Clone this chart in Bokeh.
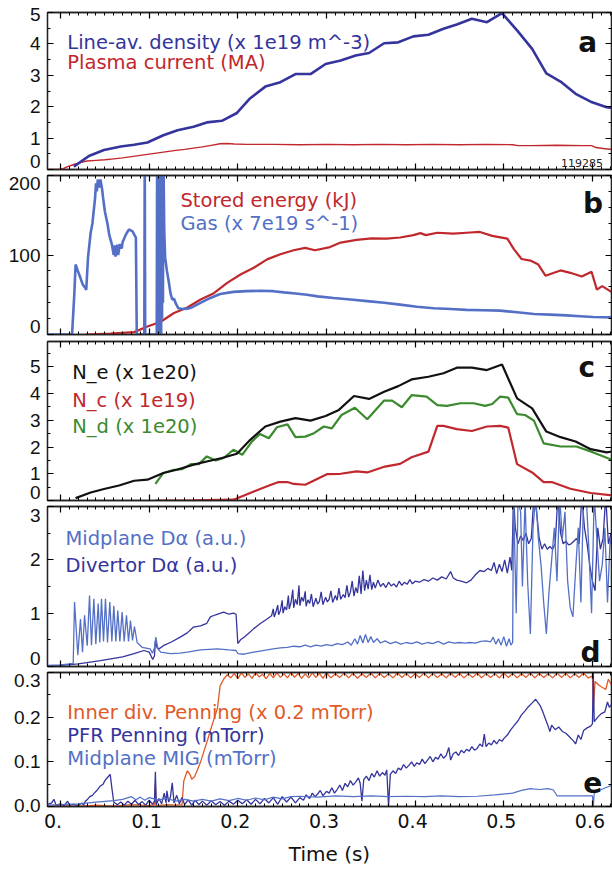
from bokeh.plotting import figure
from bokeh.layouts import column
from bokeh.models import Range1d, LinearAxis, FixedTicker, Label, CustomJSTickFormatter
from bokeh.embed import file_html
from bokeh.resources import INLINE

FONT = "DejaVu Sans"
TICKFONT = "Liberation Sans"
DARK = "#34349c"
RED = "#c0282d"
MID = "#5370c6"
GREEN = "#3b8a2e"
ORANGE = "#df5a28"

# ---------------- data (time s, value) ----------------
density = [(0.015,0.09),(0.032,0.43),(0.049,0.62),(0.068,0.73),(0.083,0.79),(0.098,0.86),(0.116,1.09),
           (0.132,1.25),(0.150,1.36),(0.165,1.50),(0.182,1.55),(0.199,1.80),(0.214,2.27),(0.231,2.64),
           (0.248,2.78),(0.265,3.04),(0.282,3.04),(0.299,3.36),(0.316,3.47),(0.333,3.63),(0.348,3.71),
           (0.365,4.02),(0.381,4.05),(0.398,4.24),(0.415,4.29),(0.432,4.48),(0.447,4.62),(0.464,4.80),
           (0.481,4.69),(0.498,4.98),(0.515,4.43),(0.532,3.84),(0.548,3.06),(0.564,2.80),(0.581,2.41),
           (0.598,2.16),(0.616,1.98),(0.625,1.95)]
plasma_current = [(-0.015,0.0),(0.0,0.0),(0.004,0.04),(0.008,0.09),(0.015,0.16),(0.022,0.22),(0.030,0.27),
                  (0.040,0.29),(0.050,0.31),(0.060,0.34),(0.070,0.37),(0.080,0.41),(0.090,0.45),(0.100,0.49),
                  (0.110,0.53),(0.120,0.57),(0.130,0.61),(0.140,0.64),(0.150,0.68),(0.160,0.72),(0.170,0.77),
                  (0.180,0.82),(0.188,0.83),(0.196,0.81),(0.21,0.80),(0.24,0.80),(0.27,0.79),(0.30,0.80),
                  (0.33,0.79),(0.36,0.80),(0.39,0.79),(0.42,0.80),(0.45,0.79),(0.48,0.80),(0.51,0.79),
                  (0.516,0.76),(0.53,0.76),(0.56,0.77),(0.59,0.76),(0.599,0.76),(0.604,0.70),(0.612,0.67),
                  (0.625,0.63)]
stored_energy = [(0.028,0),(0.056,1),(0.083,3),(0.098,10),(0.113,16),(0.128,27),(0.143,34),(0.158,44),
                 (0.173,52),(0.188,65),(0.203,75.5),(0.218,84),(0.233,94.5),(0.248,101),(0.263,106),
                 (0.276,109),(0.287,106),(0.304,110),(0.316,115.6),(0.334,119),(0.351,121),(0.368,120.6),
                 (0.383,122),(0.398,125),(0.406,127.5),(0.412,125),(0.425,128),(0.443,127),(0.458,128),
                 (0.473,129),(0.487,124),(0.504,120.6),(0.511,108),(0.520,95),(0.530,93),(0.539,88),
                 (0.547,74),(0.564,80.6),(0.575,77.6),(0.588,73),(0.599,79),(0.605,56.5),(0.611,60.8),
                 (0.625,51)]
gas = [(-0.015,0),(0.013,0),(0.0155,50),(0.017,88),(0.0195,80),(0.0225,71),(0.025,63),(0.028,58.6),
       (0.029,56),(0.031,97),(0.034,128),(0.036,140),(0.039,172),(0.040,190),(0.041,180),(0.042,195),
       (0.044,185),(0.045,195),(0.047,182),(0.048,172),(0.050,155),(0.053,139),(0.055,125),(0.058,113),
       (0.060,100),(0.061,112),(0.062,98),(0.064,113),(0.065,100),(0.067,114),(0.069,108),(0.070,116),
       (0.073,124),(0.075,128),(0.077,132),(0.079,131),(0.081,130),(0.083,126),(0.085,122),(0.086,0),
       (0.0945,0),(0.095,230),(0.0955,0),(0.1085,0),(0.109,230),(0.1095,0),(0.110,230),(0.1105,5),
       (0.111,230),(0.1115,0),(0.112,230),(0.1125,10),(0.113,230),(0.1135,0),(0.114,230),(0.1145,20),
       (0.115,230),(0.1155,40),(0.116,230),(0.117,130),(0.118,97),(0.120,80),(0.122,67),(0.124,52),
       (0.126,44),(0.128,45),(0.130,39),(0.133,33),(0.138,32),(0.143,32.5),(0.148,34),(0.154,37.6),
       (0.160,41),(0.169,46),(0.180,51),(0.195,53.6),(0.210,54.5),(0.225,55),(0.240,54.5),(0.252,53),
       (0.265,51.5),(0.278,50),(0.290,48),(0.308,46),(0.327,44),(0.346,42),(0.365,40),(0.383,37.6),
       (0.402,35),(0.421,33),(0.440,32),(0.458,31),(0.477,30.5),(0.496,30),(0.515,28),(0.534,25.7),
       (0.552,25),(0.571,24),(0.586,23),(0.601,22),(0.625,21.5)]
n_e = [(0.017,0.09),(0.034,0.30),(0.049,0.43),(0.066,0.56),(0.083,0.74),(0.098,0.78),(0.116,1.03),
       (0.131,1.15),(0.150,1.34),(0.165,1.46),(0.182,1.59),(0.199,1.75),(0.214,2.27),(0.231,2.77),
       (0.248,2.95),(0.265,3.08),(0.282,2.99),(0.299,3.16),(0.314,3.39),(0.331,3.91),(0.348,3.80),
       (0.365,4.07),(0.381,4.28),(0.396,4.53),(0.415,4.63),(0.432,4.76),(0.447,4.97),(0.464,4.97),
       (0.481,4.88),(0.498,5.09),(0.515,3.82),(0.532,3.45),(0.548,2.58),(0.564,2.37),(0.581,2.21),
       (0.598,1.92),(0.616,1.80),(0.625,1.85)]
n_d = [(0.107,0.62),(0.116,1.03),(0.128,1.15),(0.137,1.17),(0.147,1.36),(0.156,1.36),(0.165,1.65),
       (0.175,1.50),(0.184,1.59),(0.195,1.90),(0.205,1.71),(0.216,2.21),(0.225,2.49),(0.235,2.33),
       (0.244,2.74),(0.256,2.85),(0.265,2.37),(0.276,2.39),(0.286,2.52),(0.297,2.77),(0.306,2.70),
       (0.317,3.20),(0.332,3.47),(0.346,3.04),(0.365,3.74),(0.374,3.74),(0.385,3.49),(0.396,3.94),
       (0.413,3.89),(0.425,3.57),(0.436,3.54),(0.451,3.64),(0.466,3.64),(0.479,3.54),(0.487,3.61),
       (0.496,3.89),(0.505,3.85),(0.515,3.23),(0.524,3.20),(0.534,2.99),(0.545,2.14),(0.564,2.02),
       (0.582,2.02),(0.601,1.80),(0.625,1.48)]
n_c = [(0.107,0.0),(0.150,0.01),(0.195,0.03),(0.207,0.19),(0.218,0.34),(0.233,0.53),(0.246,0.69),
       (0.256,0.69),(0.263,0.62),(0.276,0.59),(0.286,0.75),(0.301,0.99),(0.316,1.00),(0.334,1.09),
       (0.346,1.05),(0.366,1.27),(0.383,1.37),(0.396,1.62),(0.415,1.83),(0.425,2.79),(0.432,2.79),
       (0.447,2.67),(0.464,2.60),(0.481,2.77),(0.496,2.79),(0.505,2.73),(0.515,1.36),(0.532,1.05),
       (0.545,0.69),(0.554,0.69),(0.575,0.44),(0.598,0.28),(0.625,0.18)]
midplane_da = [(-0.015,0.02),(0.0,0.03),(0.010,0.05),(0.0143,0.06),(0.0158,1.21),(0.0195,0.21),(0.0225,0.89),
               (0.0248,0.27),(0.0271,0.96),(0.0301,0.39),(0.0327,1.33),(0.0349,0.40),(0.0376,1.27),
               (0.0398,0.42),(0.0425,1.18),(0.0443,0.45),(0.0462,1.27),(0.0485,0.47),(0.0507,1.27),
               (0.0530,0.45),(0.0556,1.21),(0.0579,0.47),(0.0601,1.14),(0.0624,0.47),(0.0646,1.05),
               (0.0669,0.47),(0.0695,1.02),(0.0718,0.47),(0.0744,0.96),(0.0767,0.47),(0.0789,0.86),
               (0.0812,0.49),(0.0834,0.75),(0.0864,0.45),(0.092,0.36),(0.101,0.33),(0.1037,0.25),
               (0.1060,0.35),(0.1075,0.55),(0.1098,0.33),(0.113,0.27),(0.124,0.24),(0.135,0.25),
               (0.143,0.27),(0.158,0.31),(0.177,0.33),(0.190,0.31),(0.198,0.30),(0.200,0.24),(0.207,0.23),
               (0.212,0.25),(0.218,0.27),(0.225,0.29),(0.233,0.31),(0.240,0.33),(0.248,0.35),(0.256,0.36),
               (0.263,0.38),(0.270,0.37),(0.276,0.40),(0.282,0.37),(0.288,0.40),(0.294,0.38),(0.300,0.41),
               (0.306,0.39),(0.312,0.43),(0.318,0.41),(0.324,0.46),(0.328,0.40),(0.332,0.52),(0.335,0.42),
               (0.338,0.58),(0.341,0.44),(0.344,0.60),(0.347,0.45),(0.350,0.56),(0.353,0.45),(0.357,0.52),
               (0.361,0.44),(0.366,0.48),(0.372,0.43),(0.378,0.46),(0.384,0.42),(0.390,0.45),(0.396,0.43),
               (0.402,0.46),(0.408,0.42),(0.414,0.45),(0.420,0.43),(0.426,0.47),(0.432,0.42),(0.438,0.46),
               (0.444,0.44),(0.450,0.45),(0.456,0.44),(0.462,0.45),(0.468,0.44),(0.474,0.47),(0.480,0.48),
               (0.485,0.46),(0.488,0.55),(0.491,0.42),(0.494,0.52),(0.497,0.40),(0.500,0.56),(0.503,0.38),
               (0.506,0.52),(0.508,0.40),(0.510,0.45),(0.511,3.2),(0.514,1.0),(0.516,3.1),(0.519,2.9),
               (0.521,1.5),(0.524,3.1),(0.527,1.55),(0.530,0.61),(0.533,2.6),(0.536,3.2),(0.539,2.4),
               (0.542,1.9),(0.545,1.2),(0.548,0.61),(0.551,1.4),(0.554,2.0),(0.557,2.6),(0.560,1.6),
               (0.563,3.2),(0.566,2.4),(0.569,2.9),(0.572,1.6),(0.575,1.1),(0.578,0.93),(0.581,1.8),
               (0.584,2.6),(0.587,1.2),(0.590,3.2),(0.593,3.2),(0.596,2.2),(0.599,1.0),(0.602,3.2),
               (0.605,2.4),(0.608,1.6),(0.611,1.9),(0.614,2.6),(0.617,1.2),(0.620,2.4),(0.625,2.0)]
divertor_da = [(-0.015,0.01),(0.0,0.02),(0.02,0.05),(0.045,0.11),(0.07,0.18),(0.083,0.24),(0.094,0.30),
               (0.100,0.27),(0.104,0.13),(0.106,0.20),(0.107,0.48),(0.109,0.35),(0.111,0.33),(0.116,0.39),
               (0.125,0.46),(0.135,0.55),(0.143,0.63),(0.150,0.74),(0.158,0.76),(0.165,0.81),(0.169,0.93),
               (0.175,0.97),(0.184,1.02),(0.190,0.98),(0.195,1.00),(0.198,0.98),(0.200,0.43),(0.203,0.50),
               (0.207,0.55),(0.212,0.62),(0.218,0.71),(0.225,0.80),(0.233,0.89),(0.238,0.95),(0.240,1.08),
               (0.241,0.93),(0.243,1.02),(0.245,1.15),(0.246,0.97),(0.248,1.05),(0.250,1.24),(0.251,1.00),
               (0.253,1.12),(0.255,1.06),(0.257,1.33),(0.258,1.08),(0.260,1.20),(0.262,1.44),(0.263,1.10),
               (0.265,1.26),(0.267,1.16),(0.269,1.52),(0.270,1.14),(0.272,1.30),(0.274,1.22),(0.276,1.41),
               (0.277,1.13),(0.279,1.25),(0.281,1.18),(0.283,1.36),(0.285,1.12),(0.288,1.28),(0.290,1.17),
               (0.292,1.22),(0.294,1.40),(0.296,1.16),(0.299,1.30),(0.301,1.21),(0.303,1.26),(0.305,1.42),
               (0.307,1.20),(0.310,1.33),(0.312,1.24),(0.314,1.47),(0.316,1.26),(0.319,1.35),(0.321,1.29),
               (0.323,1.52),(0.325,1.30),(0.327,1.40),(0.329,1.60),(0.331,1.32),(0.333,1.48),(0.335,1.38),
               (0.337,1.70),(0.339,1.36),(0.341,1.80),(0.343,1.42),(0.345,1.62),(0.347,1.45),(0.349,1.72),
               (0.351,1.44),(0.353,1.58),(0.355,1.47),(0.358,1.62),(0.361,1.50),(0.364,1.56),(0.367,1.48),
               (0.370,1.58),(0.373,1.51),(0.376,1.55),(0.379,1.49),(0.382,1.60),(0.385,1.52),(0.388,1.58),
               (0.391,1.54),(0.394,1.63),(0.397,1.55),(0.400,1.60),(0.405,1.58),(0.410,1.63),(0.415,1.60),
               (0.420,1.66),(0.425,1.62),(0.430,1.68),(0.435,1.64),(0.440,1.78),(0.443,1.66),(0.447,1.62),
               (0.452,1.60),(0.458,1.57),(0.463,1.62),(0.468,1.72),(0.473,1.80),(0.478,1.78),(0.482,1.84),
               (0.486,1.80),(0.489,1.95),(0.492,1.74),(0.495,1.92),(0.498,1.78),(0.501,2.00),(0.504,1.75),
               (0.507,2.05),(0.509,1.80),(0.511,3.2),(0.513,2.6),(0.516,2.3),(0.519,2.45),(0.522,2.36),
               (0.525,2.5),(0.528,2.3),(0.531,2.4),(0.534,3.2),(0.537,2.9),(0.540,2.4),(0.543,2.2),
               (0.546,2.3),(0.549,2.2),(0.552,2.25),(0.555,2.2),(0.558,2.3),(0.561,3.2),(0.564,2.5),
               (0.567,2.3),(0.570,2.35),(0.573,2.28),(0.576,2.3),(0.579,2.35),(0.582,2.4),(0.585,2.3),
               (0.588,3.2),(0.591,2.6),(0.594,2.3),(0.597,1.9),(0.600,1.6),(0.603,1.42),(0.606,2.6),
               (0.609,2.2),(0.612,2.4),(0.615,3.2),(0.618,2.3),(0.621,2.5),(0.625,2.2)]
inner_penning = [(-0.015,0.0),(0.0,0.002),(0.02,0.0),(0.04,0.003),(0.06,0.001),(0.08,0.004),(0.10,0.002),
                 (0.106,0.004),(0.107,0.05),(0.108,0.002),(0.12,0.004),(0.13,0.003),(0.137,0.004),
                 (0.139,0.057),(0.143,0.080),(0.146,0.072),(0.148,0.061),(0.151,0.066),(0.154,0.080),
                 (0.158,0.100),(0.162,0.125),(0.166,0.150),(0.169,0.170),(0.173,0.195),(0.177,0.220),
                 (0.180,0.270),(0.184,0.285),(0.188,0.295),(0.192,0.288),(0.196,0.298),(0.200,0.286),
                 (0.204,0.299),(0.208,0.289),(0.212,0.297),(0.216,0.287),(0.220,0.300),(0.224,0.290),
                 (0.228,0.296),(0.232,0.286),(0.236,0.298),(0.240,0.288),(0.244,0.299),(0.248,0.289),
                 (0.252,0.297),(0.256,0.288),(0.260,0.300),(0.264,0.289),(0.268,0.298),(0.272,0.287),
                 (0.276,0.297),(0.280,0.288),(0.284,0.299),(0.288,0.289),(0.292,0.298),(0.296,0.287),
                 (0.300,0.299),(0.305,0.288),(0.310,0.297),(0.315,0.289),(0.320,0.299),(0.325,0.288),
                 (0.330,0.298),(0.335,0.287),(0.340,0.297),(0.345,0.289),(0.350,0.299),(0.355,0.288),
                 (0.360,0.298),(0.365,0.289),(0.370,0.297),(0.375,0.288),(0.380,0.299),(0.385,0.289),
                 (0.390,0.298),(0.395,0.288),(0.400,0.297),(0.405,0.289),(0.410,0.299),(0.415,0.288),
                 (0.420,0.298),(0.425,0.289),(0.430,0.297),(0.435,0.288),(0.440,0.299),(0.445,0.289),
                 (0.450,0.298),(0.455,0.288),(0.460,0.297),(0.465,0.289),(0.470,0.299),(0.475,0.288),
                 (0.480,0.298),(0.485,0.289),(0.490,0.297),(0.495,0.288),(0.500,0.299),(0.505,0.289),
                 (0.510,0.298),(0.515,0.288),(0.520,0.297),(0.525,0.289),(0.530,0.299),(0.535,0.288),
                 (0.540,0.298),(0.545,0.289),(0.550,0.297),(0.555,0.288),(0.560,0.299),(0.565,0.289),
                 (0.570,0.298),(0.575,0.288),(0.580,0.297),(0.585,0.289),(0.590,0.299),(0.595,0.288),
                 (0.600,0.292),(0.601,0.220),(0.603,0.280),(0.607,0.272),(0.610,0.268),(0.615,0.262),
                 (0.618,0.285),(0.622,0.270),(0.625,0.272)]
pfr_penning = [(-0.015,0.004),(-0.010,0.008),(-0.0075,0.016),(-0.005,0.003),(0.000,0.006),(0.004,0.002),
               (0.008,0.012),(0.010,0.003),(0.015,0.005),(0.020,0.002),(0.024,0.008),(0.026,0.003),
               (0.028,0.012),(0.030,0.015),(0.033,0.022),(0.036,0.025),(0.038,0.030),(0.041,0.036),
               (0.045,0.046),(0.048,0.050),(0.050,0.058),(0.053,0.065),(0.056,0.072),(0.058,0.040),
               (0.060,0.010),(0.064,0.004),(0.068,0.010),(0.072,0.003),(0.076,0.012),(0.080,0.005),
               (0.084,0.014),(0.088,0.004),(0.092,0.011),(0.096,0.003),(0.100,0.014),(0.104,0.005),
               (0.106,0.012),(0.107,0.078),(0.108,0.004),(0.111,0.018),(0.114,0.006),(0.117,0.030),
               (0.119,0.008),(0.120,0.035),(0.122,0.010),(0.124,0.022),(0.126,0.053),(0.128,0.008),
               (0.131,0.025),(0.134,0.006),(0.137,0.020),(0.140,0.004),(0.144,0.015),(0.148,0.003),
               (0.152,0.014),(0.156,0.004),(0.160,0.012),(0.165,0.003),(0.170,0.013),(0.175,0.004),
               (0.180,0.011),(0.185,0.003),(0.190,0.012),(0.195,0.005),(0.200,0.014),(0.205,0.006),
               (0.210,0.015),(0.215,0.005),(0.220,0.016),(0.225,0.006),(0.230,0.018),(0.235,0.008),
               (0.240,0.020),(0.245,0.005),(0.250,0.022),(0.255,0.010),(0.260,0.021),(0.265,0.008),
               (0.270,0.020),(0.274,0.014),(0.277,0.026),(0.281,0.018),(0.284,0.030),(0.287,0.022),
               (0.290,0.028),(0.293,0.036),(0.296,0.024),(0.300,0.034),(0.303,0.030),(0.306,0.042),
               (0.309,0.030),(0.312,0.038),(0.315,0.048),(0.318,0.036),(0.321,0.052),(0.324,0.044),
               (0.327,0.058),(0.330,0.048),(0.333,0.055),(0.336,0.064),(0.338,0.052),(0.340,0.012),
               (0.342,0.060),(0.345,0.068),(0.348,0.058),(0.351,0.074),(0.354,0.066),(0.357,0.080),
               (0.360,0.068),(0.363,0.076),(0.366,0.070),(0.368,0.082),(0.370,0.000),(0.372,0.072),
               (0.375,0.080),(0.378,0.074),(0.381,0.086),(0.384,0.082),(0.387,0.094),(0.390,0.086),
               (0.393,0.092),(0.396,0.100),(0.399,0.090),(0.402,0.098),(0.405,0.094),(0.408,0.106),
               (0.411,0.096),(0.414,0.104),(0.417,0.112),(0.420,0.100),(0.423,0.110),(0.426,0.106),
               (0.429,0.118),(0.432,0.108),(0.435,0.114),(0.438,0.132),(0.440,0.104),(0.443,0.118),
               (0.446,0.122),(0.449,0.114),(0.452,0.126),(0.455,0.120),(0.458,0.128),(0.461,0.124),
               (0.464,0.134),(0.467,0.126),(0.470,0.130),(0.473,0.140),(0.476,0.134),(0.478,0.162),
               (0.480,0.134),(0.483,0.142),(0.486,0.138),(0.489,0.148),(0.492,0.140),(0.495,0.150),
               (0.498,0.146),(0.500,0.152),(0.504,0.160),(0.508,0.172),(0.512,0.182),(0.516,0.192),
               (0.520,0.205),(0.524,0.214),(0.528,0.224),(0.532,0.232),(0.536,0.240),(0.538,0.234),
               (0.541,0.226),(0.544,0.212),(0.547,0.196),(0.550,0.180),(0.552,0.168),(0.554,0.182),
               (0.558,0.172),(0.562,0.178),(0.566,0.168),(0.570,0.164),(0.574,0.156),(0.578,0.148),
               (0.581,0.140),(0.584,0.160),(0.587,0.150),(0.590,0.170),(0.594,0.176),(0.598,0.180),
               (0.600,0.185),(0.601,0.300),(0.602,0.190),(0.606,0.200),(0.610,0.208),(0.614,0.212),
               (0.617,0.234),(0.619,0.222),(0.622,0.230),(0.625,0.232)]
midplane_mig = [(-0.015,0.003),(0.0,0.004),(0.02,0.006),(0.04,0.010),(0.06,0.013),(0.07,0.016),(0.08,0.022),
                (0.085,0.015),(0.09,0.021),(0.095,0.014),(0.10,0.020),(0.11,0.015),(0.12,0.018),(0.13,0.012),
                (0.14,0.016),(0.15,0.012),(0.16,0.016),(0.17,0.012),(0.18,0.017),(0.19,0.013),(0.20,0.018),
                (0.21,0.014),(0.22,0.019),(0.23,0.015),(0.24,0.021),(0.25,0.017),(0.26,0.022),(0.27,0.023),
                (0.29,0.021),(0.31,0.024),(0.33,0.022),(0.35,0.024),(0.37,0.022),(0.39,0.023),(0.41,0.022),
                (0.43,0.024),(0.45,0.022),(0.47,0.023),(0.49,0.026),(0.51,0.030),(0.52,0.036),(0.53,0.040),
                (0.54,0.038),(0.55,0.040),(0.556,0.037),(0.560,0.024),(0.58,0.024),(0.60,0.024),(0.601,0.0),
                (0.602,0.030),(0.61,0.038),(0.625,0.050)]

# y tick labels per panel: (tick value, label text, pixel shift, + = up)
ylabels_a = [(0, "0", 8), (1, "1", 0), (2, "2", 0), (3, "3", 0), (4, "4", 0), (5, "5", -2)]
ylabels_b = [(0, "0", 8), (100, "100", 0), (200, "200", -8)]
ylabels_c = [(0, "0", 8), (1, "1", 0), (2, "2", 0), (3, "3", 0), (4, "4", 0), (5, "5", 0)]
ylabels_d = [(0, "0", 8), (1, "1", 0), (2, "2", 0), (3, "3", -9)]
ylabels_e = [(0, "0.0", 1), (0.1, "0.1", 0), (0.2, "0.2", 0), (0.3, "0.3", -8)]
# x tick labels: (tick value, label text, pixel shift, + = right)
x_labels = [(0, "0.", -7.5), (0.1, "0.1", -2.5), (0.2, "0.2", -2.5), (0.3, "0.3", -2.5),
            (0.4, "0.4", -2.5), (0.5, "0.5", -2.5), (0.6, "0.6", -2.5)]
X0, X1 = -0.0147, 0.6215
FRAME_W = 564


def xy(pts):
    return [a for a, b in pts], [b for a, b in pts]


def mk_ticker(step, minor, lo, hi):
    n = int(round((hi - lo) / minor))
    minors = [round(lo + i * minor, 6) for i in range(n + 1)]
    majors = [v for v in minors if abs(v / step - round(v / step)) < 1e-6]
    return FixedTicker(ticks=majors, minor_ticks=minors)


BLANK = "return '';"
LOOKUP = "const i = vals.findIndex(v => Math.abs(v - tick) < 1e-6 * (1 + Math.abs(v))); return i >= 0 ? labs[i] : '';"


def tick_axis(ticker):
    ax = LinearAxis(ticker=ticker)
    ax.major_tick_in = 6
    ax.major_tick_out = 0
    ax.minor_tick_in = 3
    ax.minor_tick_out = 0
    ax.axis_line_color = "#222222"
    ax.axis_line_width = 1.3
    ax.major_tick_line_width = 1.2
    ax.minor_tick_line_width = 1.0
    ax.formatter = CustomJSTickFormatter(code=BLANK)
    ax.major_label_standoff = 0
    return ax


def label_axis(vals, labs, standoff, font, size):
    ax = LinearAxis(ticker=FixedTicker(ticks=vals, minor_ticks=[]))
    ax.major_tick_in = 0
    ax.major_tick_out = 0
    ax.minor_tick_in = 0
    ax.minor_tick_out = 0
    ax.major_tick_line_color = None
    ax.minor_tick_line_color = None
    ax.axis_line_color = None
    ax.formatter = CustomJSTickFormatter(args=dict(vals=vals, labs=labs), code=LOOKUP)
    ax.major_label_standoff = standoff
    ax.major_label_text_font = font
    ax.major_label_text_font_size = size
    ax.major_label_text_color = "#111111"
    return ax


def panel(frame_h, ylo, yhi, ystep, yminor, top_b, bot_b, ylabels, last=False):
    p = figure(frame_width=FRAME_W, frame_height=frame_h, x_range=Range1d(X0, X1), y_range=Range1d(ylo, yhi),
               output_backend="svg", toolbar_location=None, x_axis_location=None, y_axis_location=None,
               min_border_left=47, min_border_right=1, min_border_top=top_b, min_border_bottom=bot_b)
    p.grid.visible = False
    p.outline_line_color = "#222222"
    p.outline_line_width = 1.3
    xt = mk_ticker(0.1, 0.01, 0.0, 0.62)
    yt = mk_ticker(ystep, yminor, ylo, yhi)
    p.add_layout(tick_axis(xt), "below")
    if last:
        xupp = (X1 - X0) / FRAME_W
        xv = [round(v + s * xupp, 6) for v, t, s in x_labels]
        lab = label_axis(xv, [t for v, t, s in x_labels], 7, FONT, "19px")
        lab.axis_label = "Time (s)"
        lab.axis_label_text_font = FONT
        lab.axis_label_text_font_size = "20px"
        lab.axis_label_text_font_style = "normal"
        lab.axis_label_standoff = 11
        lab.axis_label_text_color = "#111111"
        p.add_layout(lab, "below")
    p.add_layout(tick_axis(xt), "above")
    p.add_layout(tick_axis(yt), "left")
    upp = (yhi - ylo) / frame_h
    vals = [round(v + s * upp, 6) for v, t, s in ylabels]
    labs = [t for v, t, s in ylabels]
    p.add_layout(label_axis(vals, labs, 7, TICKFONT, "19px"), "left")
    p.add_layout(tick_axis(yt), "right")
    return p


def legend(p, x, y, txt, color, size="19.5px"):
    p.add_layout(Label(x=x, y=y, text=txt, text_color=color, text_font=FONT, text_font_size=size,
                       text_baseline="alphabetic"))


def letter(p, x, y, txt):
    p.add_layout(Label(x=x, y=y, text=txt, text_color="#111111", text_font=FONT, text_font_size="28px",
                       text_font_style="bold", text_align="right", text_baseline="alphabetic"))


# Panel a
pa = panel(157, 0, 5, 1, 0.5, 12, 3, ylabels_a)
pa.line(*xy(plasma_current), color=RED, line_width=1.4)
pa.line(*xy(density), color=DARK, line_width=2.6)
legend(pa, 0.0076, 4.05, "Line-av. density (x 1e19 m^-3)", DARK)
legend(pa, 0.0076, 3.42, "Plasma current (MA)", RED)
letter(pa, 0.6054, 4.04, "a")
pa.add_layout(Label(x=0.612, y=0.2, text="119285", text_color="#222222", text_font=FONT,
                    text_font_size="11px", text_align="right", text_baseline="alphabetic"))

# Panel b
pb = panel(159, 0, 200, 100, 20, 3, 3, ylabels_b)
pb.line(*xy(stored_energy), color=RED, line_width=2.2)
pb.line(*xy(gas), color=MID, line_width=2.6)
legend(pb, 0.1353, 168, "Stored energy (kJ)", RED)
legend(pb, 0.1353, 139.6, "Gas (x 7e19 s^-1)", MID)
letter(pb, 0.612, 164.6, "b")

# Panel c
pc = panel(159, 0, 5.95, 1, 0.5, 4, 3, ylabels_c)
pc.line(*xy(n_c), color=RED, line_width=2.2)
pc.line(*xy(n_d), color=GREEN, line_width=2.2)
pc.line(*xy(n_e), color="#111111", line_width=2.2)
legend(pc, 0.0132, 4.78, "N_e (x 1e20)", "#111111")
legend(pc, 0.0132, 3.76, "N_c (x 1e19)", RED)
legend(pc, 0.0132, 2.77, "N_d (x 1e20)", GREEN)
letter(pc, 0.603, 4.99, "c")

# Panel d
pd_ = panel(160, 0, 3, 1, 0.5, 3, 3, ylabels_d)
pd_.line(*xy(divertor_da), color=DARK, line_width=1.3)
pd_.line(*xy(midplane_da), color=MID, line_width=1.3)
legend(pd_, 0.0056, 2.40, "Midplane D\u03b1 (a.u.)", MID)
legend(pd_, 0.0056, 1.89, "Divertor D\u03b1 (a.u.)", DARK)
letter(pd_, 0.609, 0.27, "d")

# Panel e
pe = panel(134, 0, 0.3, 0.1, 0.05, 3, 3, ylabels_e, last=True)
pe.line(*xy(inner_penning), color=ORANGE, line_width=1.3)
pe.line(*xy(pfr_penning), color=DARK, line_width=1.3)
pe.line(*xy(midplane_mig), color=MID, line_width=1.2)
legend(pe, 0.0076, 0.211, "Inner div. Penning (x 0.2 mTorr)", ORANGE)
legend(pe, 0.0076, 0.159, "PFR Penning (mTorr)", DARK)
legend(pe, 0.0076, 0.107, "Midplane MIG (mTorr)", MID)
letter(pe, 0.611, 0.053, "e")

layout = column(pa, pb, pc, pd_, pe, spacing=0)
open("out.html", "w").write(file_html(layout, INLINE))
